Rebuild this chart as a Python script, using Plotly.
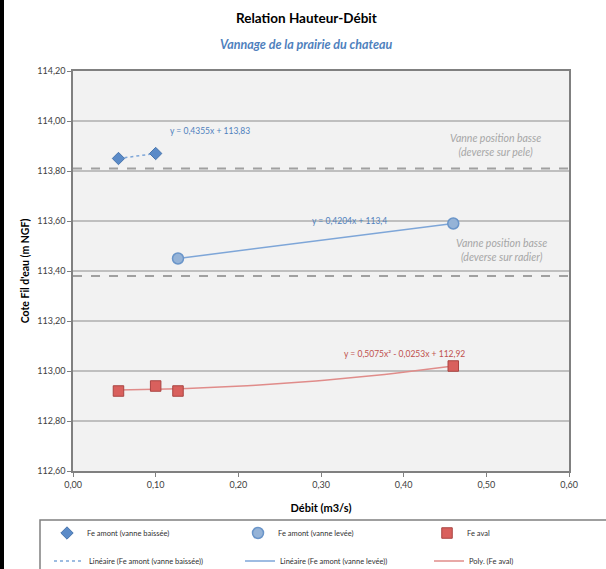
import numpy as np
import plotly.graph_objects as go

# ---------------- data ----------------
x_baissee = [0.055, 0.10]
y_baissee = [113.85, 113.87]

x_levee = [0.127, 0.46]
y_levee = [113.45, 113.59]

x_aval = [0.055, 0.10, 0.127, 0.46]
y_aval = [112.92, 112.94, 112.92, 113.02]

ref_levels = [113.81, 113.38]
ref_labels = ["Vanne position basse<br>(deverse sur pele)",
              "Vanne position basse<br>(deverse sur radier)"]

eq_labels = ["y = 0,4355x + 113,83", "y = 0,4204x + 113,4",
             "y = 0,5075x² - 0,0253x + 112,92"]

x_ticks = [0, 0.1, 0.2, 0.3, 0.4, 0.5, 0.6]
x_ticktext = ["0,00", "0,10", "0,20", "0,30", "0,40", "0,50", "0,60"]
y_ticks = [112.6, 112.8, 113.0, 113.2, 113.4, 113.6, 113.8, 114.0, 114.2]
y_ticktext = ["112,60", "112,80", "113,00", "113,20", "113,40", "113,60",
              "113,80", "114,00", "114,20"]

# trendlines (fits of the data, as in the spreadsheet)
def fit(xs, ys, deg):
    c = np.polyfit(xs, ys, deg)
    xx = np.linspace(min(xs), max(xs), 40)
    return xx, np.polyval(c, xx)

tb_x, tb_y = fit(x_baissee, y_baissee, 1)
tl_x, tl_y = fit(x_levee, y_levee, 1)
ta_x, ta_y = fit(x_aval, y_aval, 2)

BLUE = "#4f81bd"
LBLUE = "#95b3d7"
RED = "#c0504d"
FONT = "Lato, 'Open Sans', sans-serif"

W, H = 606, 569
ML, MR, MT, MB = 73, 37, 71, 98
PW, PH = W - ML - MR, H - MT - MB

def px(x):
    return (x - ML) / PW

def py(y):
    return (H - MB - y) / PH

fig = go.Figure()

# trendlines (drawn under markers)
fig.add_trace(go.Scatter(x=tb_x, y=tb_y, mode="lines", name="Linéaire (Fe amont (vanne baissée))",
                         line=dict(color="#7ea6d8", width=1.5, dash="dot"), legend="legend4"))
fig.add_trace(go.Scatter(x=tl_x, y=tl_y, mode="lines", name="Linéaire (Fe amont (vanne levée))",
                         line=dict(color="#7ea6d8", width=1.5), legend="legend5"))
fig.add_trace(go.Scatter(x=ta_x, y=ta_y, mode="lines", name="Poly. (Fe aval)",
                         line=dict(color="#e08c8a", width=1.5), legend="legend6"))

fig.add_trace(go.Scatter(x=x_baissee, y=y_baissee, mode="markers", name="Fe amont (vanne baissée)",
                         marker=dict(symbol="diamond", size=9.5, color="#5b8bc8",
                                     line=dict(color="#4a76ad", width=1)), legend="legend"))
fig.add_trace(go.Scatter(x=x_levee, y=y_levee, mode="markers", name="Fe amont (vanne levée)",
                         marker=dict(symbol="circle", size=11, color=LBLUE,
                                     line=dict(color="#6a95c9", width=1.5)), legend="legend2"))
fig.add_trace(go.Scatter(x=x_aval, y=y_aval, mode="markers", name="Fe aval",
                         marker=dict(symbol="square", size=10.5, color="#d9605d",
                                     line=dict(color="#a94442", width=1)), legend="legend3"))

# reference dashed lines
for lv in ref_levels:
    fig.add_shape(type="line", xref="paper", x0=0, x1=1, yref="y", y0=lv, y1=lv,
                  line=dict(color="#a0a0a0", width=2, dash="dash"), layer="below")

annos = []
# equations
annos.append(dict(x=0.166, y=113.96, text=eq_labels[0], showarrow=False,
                  font=dict(size=8.5, color=BLUE, family=FONT)))
annos.append(dict(x=0.335, y=113.60, text=eq_labels[1], showarrow=False,
                  font=dict(size=8.5, color=BLUE, family=FONT)))
annos.append(dict(x=0.401, y=113.07, text=eq_labels[2], showarrow=False,
                  font=dict(size=8.5, color=RED, family=FONT)))
# reference labels
annos.append(dict(x=0.511, y=113.905, text="<i>" + ref_labels[0] + "</i>", showarrow=False,
                  font=dict(size=10.5, color="#a6a6a6", family=FONT)))
annos.append(dict(x=0.518, y=113.485, text="<i>" + ref_labels[1] + "</i>", showarrow=False,
                  font=dict(size=10.5, color="#a6a6a6", family=FONT)))
# titles
annos.append(dict(xref="paper", yref="paper", x=px(306), y=py(18),
                  xanchor="center", yanchor="middle",
                  text="<b>Relation Hauteur-Débit</b>", showarrow=False,
                  font=dict(size=13.5, color="#000000", family=FONT)))
annos.append(dict(xref="paper", yref="paper", x=px(306), y=py(44),
                  xanchor="center", yanchor="middle",
                  text="<b><i>Vannage de la prairie du chateau</i></b>", showarrow=False,
                  font=dict(size=12.5, color=BLUE, family=FONT)))

fig.update_layout(annotations=annos)

# legend frame
fig.add_shape(type="rect", xref="paper", yref="paper",
              x0=px(40), x1=px(612), y0=py(580), y1=py(520),
              line=dict(color="#808080", width=1.5), fillcolor="rgba(0,0,0,0)")
# dark strip at the left edge of the picture
fig.add_shape(type="rect", xref="paper", yref="paper", layer="above",
              x0=px(0), x1=px(4), y0=py(H), y1=py(0),
              line=dict(width=0), fillcolor="#000000")

def leg(xpix, ypix):
    return dict(orientation="h", xref="container", yref="container",
                x=xpix / W, y=1 - ypix / H, xanchor="left", yanchor="top",
                itemwidth=30, font=dict(size=7.5, color="#303030", family=FONT),
                bgcolor="rgba(0,0,0,0)")

row1, row2 = 533 - 14.5, 561 - 14.5
fig.update_layout(
    width=W, height=H,
    margin=dict(l=ML, r=MR, t=MT, b=MB),
    paper_bgcolor="#ffffff",
    plot_bgcolor="#f2f2f2",
    font=dict(family=FONT, size=9, color="#404040"),
    showlegend=True,
    legend=leg(47, row1), legend2=leg(238, row1), legend3=leg(427, row1),
    legend4=leg(49, row2), legend5=leg(240, row2), legend6=leg(429, row2),
    xaxis=dict(range=[0, 0.6], tickvals=x_ticks, ticktext=x_ticktext,
               showgrid=False, zeroline=False, automargin=False,
               showline=True, linecolor="#808080", linewidth=1.5, mirror=True,
               ticks="outside", ticklen=4, tickcolor="#808080",
               tickfont=dict(size=9, color="#404040", family=FONT),
               title=dict(text="<b>Débit (m3/s)</b>", standoff=16,
                          font=dict(size=11, color="#000000", family=FONT))),
    yaxis=dict(range=[112.6, 114.2], tickvals=y_ticks, ticktext=y_ticktext,
               showgrid=True, gridcolor="#bfbfbf", gridwidth=1.5, zeroline=False,
               automargin=False,
               showline=True, linecolor="#808080", linewidth=1.5, mirror=True,
               ticks="outside", ticklen=4, tickcolor="#808080",
               tickfont=dict(size=9, color="#404040", family=FONT),
               title=dict(text="<b>Cote Fil d'eau (m NGF)</b>", standoff=6,
                          font=dict(size=10.5, color="#000000", family=FONT))),
)

fig.write_html("out.html", config={"displayModeBar": False},
               post_script="document.body.style.margin='0';")
